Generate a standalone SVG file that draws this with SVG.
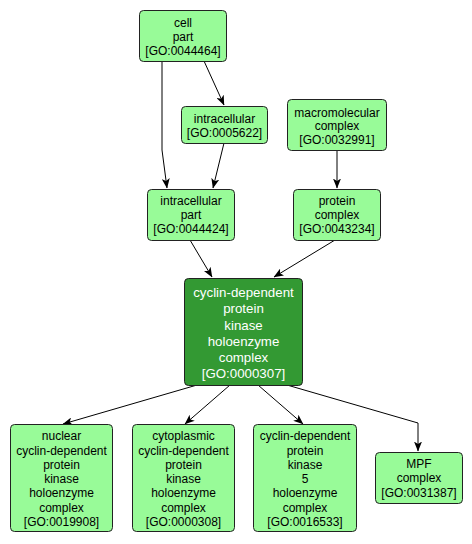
<svg xmlns="http://www.w3.org/2000/svg" width="472" height="544" viewBox="0 0 472 544">
<style>
.n rect{fill:#98fb98;stroke:#222;stroke-width:1}
.n text{font-family:"Liberation Sans",Arial,sans-serif;font-size:12px;fill:#000;text-anchor:middle}
#GO0000307 rect{fill:#339933}
#GO0000307 text{fill:#fff;font-size:13.3px}
.e path{fill:none;stroke:#000;stroke-width:1;marker-end:url(#a)}
</style>
<defs>
<marker id="a" markerUnits="userSpaceOnUse" markerWidth="10" markerHeight="8" refX="9.5" refY="4" orient="auto">
<path d="M0,0 L10,4 L0,8 L2.5,4 z" fill="#000"/>
</marker>
</defs>
<rect width="472" height="544" fill="#fff"/>
<g class="e">
<path d="M162,61 L162,150 L167,188"/>
<path d="M204,61 L224,105"/>
<path d="M224,143 L213,188"/>
<path d="M337,151 L337,188"/>
<path d="M190,240 L212,277"/>
<path d="M335,240 L274,277"/>
<path d="M197,385 L63,424"/>
<path d="M230,385 L185,424"/>
<path d="M258,385 L303,424"/>
<path d="M287,385 L418,423 L418,451"/>
</g>
<g class="n" id="GO0044464"><rect x="139.5" y="10.5" width="87" height="51" rx="4"/><text x="183" y="26.5">cell</text><text x="183" y="40.5">part</text><text x="183" y="54.5">[GO:0044464]</text></g>
<g class="n" id="GO0005622"><rect x="181.5" y="106.5" width="86" height="37" rx="4"/><text x="224.5" y="122.5">intracellular</text><text x="224.5" y="137">[GO:0005622]</text></g>
<g class="n" id="GO0032991"><rect x="287.5" y="99.5" width="99" height="51" rx="4"/><text x="337" y="116.5">macromolecular</text><text x="337" y="130">complex</text><text x="337" y="143.5">[GO:0032991]</text></g>
<g class="n" id="GO0044424"><rect x="147.5" y="189.5" width="87" height="51" rx="4"/><text x="191" y="204.5">intracellular</text><text x="191" y="219">part</text><text x="191" y="233">[GO:0044424]</text></g>
<g class="n" id="GO0043234"><rect x="293.5" y="189.5" width="87" height="51" rx="4"/><text x="337" y="204.5">protein</text><text x="337" y="219">complex</text><text x="337" y="233">[GO:0043234]</text></g>
<g class="n" id="GO0000307"><rect x="184.5" y="278.5" width="118" height="107" rx="4"/><text x="243.5" y="296.5">cyclin-dependent</text><text x="243.5" y="313">protein</text><text x="243.5" y="329.5">kinase</text><text x="243.5" y="346">holoenzyme</text><text x="243.5" y="362">complex</text><text x="243.5" y="378">[GO:0000307]</text></g>
<g class="n" id="GO0019908"><rect x="10.5" y="424.5" width="102" height="107" rx="4"/><text x="61.5" y="440">nuclear</text><text x="61.5" y="454.5">cyclin-dependent</text><text x="61.5" y="468.5">protein</text><text x="61.5" y="483">kinase</text><text x="61.5" y="497">holoenzyme</text><text x="61.5" y="511.5">complex</text><text x="61.5" y="525.5">[GO:0019908]</text></g>
<g class="n" id="GO0000308"><rect x="132.5" y="424.5" width="102" height="107" rx="4"/><text x="183.5" y="440">cytoplasmic</text><text x="183.5" y="454.5">cyclin-dependent</text><text x="183.5" y="468.5">protein</text><text x="183.5" y="483">kinase</text><text x="183.5" y="497">holoenzyme</text><text x="183.5" y="511.5">complex</text><text x="183.5" y="525.5">[GO:0000308]</text></g>
<g class="n" id="GO0016533"><rect x="253.5" y="424.5" width="103" height="107" rx="4"/><text x="305" y="440">cyclin-dependent</text><text x="305" y="454.5">protein</text><text x="305" y="468.5">kinase</text><text x="305" y="483">5</text><text x="305" y="497">holoenzyme</text><text x="305" y="511.5">complex</text><text x="305" y="525.5">[GO:0016533]</text></g>
<g class="n" id="GO0031387"><rect x="375.5" y="452.5" width="87" height="51" rx="4"/><text x="419" y="467.5">MPF</text><text x="419" y="482">complex</text><text x="419" y="496.5">[GO:0031387]</text></g>
</svg>
